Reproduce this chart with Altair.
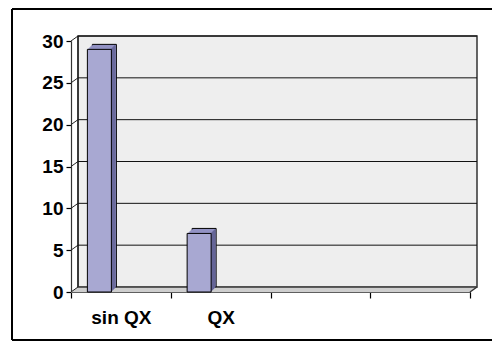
import altair as alt
import pandas as pd

# ---- data -------------------------------------------------------------
categories = ["sin QX", "QX"]
values = [29, 7]
slots = ["sin QX", "QX", " ", "  "]          # four category slots on the x axis
y_ticks = [0, 5, 10, 15, 20, 25, 30]
y_max = 30

# ---- geometry / style -------------------------------------------------
W, H = 399, 251            # front plot frame
DX, DY = 7, -5             # depth of the back wall
BAR_W = 24
BAR_SHIFT = -21.5          # bars sit toward the left of their slot
BAR_DEPTH = 5
FONT = "Liberation Sans"
FRONT = "#A8A8D2"
TOP = "#9292C4"
SIDE = "#646496"

bars = pd.DataFrame({"cat": categories, "val": values})
ticks = pd.DataFrame({"v": y_ticks})
one = pd.DataFrame({"a": [0]})

x_scale = alt.Scale(domain=slots, paddingInner=0, paddingOuter=0)
y_scale = alt.Scale(domain=[0, y_max], nice=False, zero=True)

x_axis = alt.Axis(title=None, labelAngle=0, tickBand="extent", tickSize=6,
                  labelPadding=10, domainColor="black", tickColor="black",
                  labelFontSize=19, labelFontWeight="bold", labelFont=FONT,
                  labelColor="black", grid=False, domainWidth=1.2, tickWidth=1.2)
y_axis = alt.Axis(title=None, values=y_ticks, tickSize=5, labelPadding=3,
                  domainColor="#333333", tickColor="black", grid=False,
                  labelFontSize=19, labelFontWeight="bold", labelFont=FONT,
                  labelColor="black", domainWidth=1.2, tickWidth=1.2)


def xc():
    return alt.X("cat", type="nominal", scale=x_scale, sort=slots, axis=x_axis, title=None)


def yq(field=None, datum=None):
    if datum is not None:
        return alt.Y(datum=datum, type="quantitative", scale=y_scale, axis=y_axis, title=None)
    return alt.Y(field, type="quantitative", scale=y_scale, axis=y_axis, title=None)


def y2q(field=None, datum=None):
    if datum is not None:
        return alt.Y2(datum=datum)
    return alt.Y2(field)


layers = []

# outer frame: top, left and bottom edges (the right side runs off the canvas)
FL, FT, FB, FR = -59, -32, H + 48, W + 60
for enc in (
    dict(x=alt.value(FL), x2=alt.value(FR), y=alt.value(FT)),
    dict(x=alt.value(FL), x2=alt.value(FR), y=alt.value(FB)),
    dict(x=alt.value(FL), y=alt.value(FT), y2=alt.value(FB)),
):
    layers.append(alt.Chart(one).mark_rule(color="black", strokeWidth=2).encode(**enc))

# back wall
layers.append(
    alt.Chart(one).mark_rect(fill="#EEEEEE", stroke="#333333", strokeWidth=1.5,
                             yOffset=DY, y2Offset=DY).encode(
        x=alt.value(DX), x2=alt.value(W + DX), y=yq(datum=y_max), y2=y2q(datum=0)
    )
)

# floor (slanted slab under the bars)
for k in range(0, -DY + 1):
    sx = k * DX / (-DY)
    layers.append(
        alt.Chart(one).mark_rule(color="#BEBEBE", strokeWidth=1.2, yOffset=-k).encode(
            x=alt.value(sx), x2=alt.value(W + sx), y=yq(datum=0)
        )
    )

# gridlines on the back wall
layers.append(
    alt.Chart(ticks).mark_rule(color="#111111", strokeWidth=1, yOffset=DY).encode(
        x=alt.value(DX), x2=alt.value(W + DX), y=yq("v")
    )
)

# gridline returns on the left side wall
layers.append(
    alt.Chart(ticks).mark_rule(color="#222222", strokeWidth=1, y2Offset=DY).encode(
        x=alt.value(0), x2=alt.value(DX), y=yq("v"), y2=y2q("v")
    )
)

# back edge of the left wall
layers.append(
    alt.Chart(one).mark_rule(color="#111111", strokeWidth=1, yOffset=DY, y2Offset=DY).encode(
        x=alt.value(DX), y=yq(datum=y_max), y2=y2q(datum=0)
    )
)

# right edge of the floor
layers.append(
    alt.Chart(one).mark_rule(color="#333333", strokeWidth=1.5, y2Offset=DY).encode(
        x=alt.value(W), x2=alt.value(W + DX), y=yq(datum=0), y2=y2q(datum=0)
    )
)

# bar tops: stacked copies receding into depth
for k in range(BAR_DEPTH, 0, -1):
    extra = {"stroke": "black", "strokeWidth": 1} if k == BAR_DEPTH else {}
    layers.append(
        alt.Chart(bars).mark_bar(color=TOP, width=BAR_W, xOffset=BAR_SHIFT + k,
                                 yOffset=-k, y2Offset=-k, **extra).encode(
            x=xc(), y=yq("val"), y2=y2q(datum=0)
        )
    )

# bar sides
for k in range(1, BAR_DEPTH):
    layers.append(
        alt.Chart(bars).mark_rule(color=SIDE, strokeWidth=1.2,
                                  xOffset=BAR_SHIFT + BAR_W / 2 + k - 0.5,
                                  yOffset=-k, y2Offset=-k).encode(
            x=xc(), y=yq("val"), y2=y2q(datum=0)
        )
    )

# bar fronts
layers.append(
    alt.Chart(bars).mark_bar(color=FRONT, width=BAR_W, xOffset=BAR_SHIFT,
                             stroke="black", strokeWidth=1).encode(
        x=xc(), y=yq("val"), y2=y2q(datum=0)
    )
)

chart = alt.layer(*layers).properties(
    width=W, height=H,
    autosize=alt.AutoSizeParams(type="none"),
    padding={"left": 71, "top": 41, "right": 22, "bottom": 50},
    background="white",
).configure_view(stroke=None).configure_axis(zindex=1)

chart.save("out.html", embed_options={"renderer": "svg", "actions": False})
